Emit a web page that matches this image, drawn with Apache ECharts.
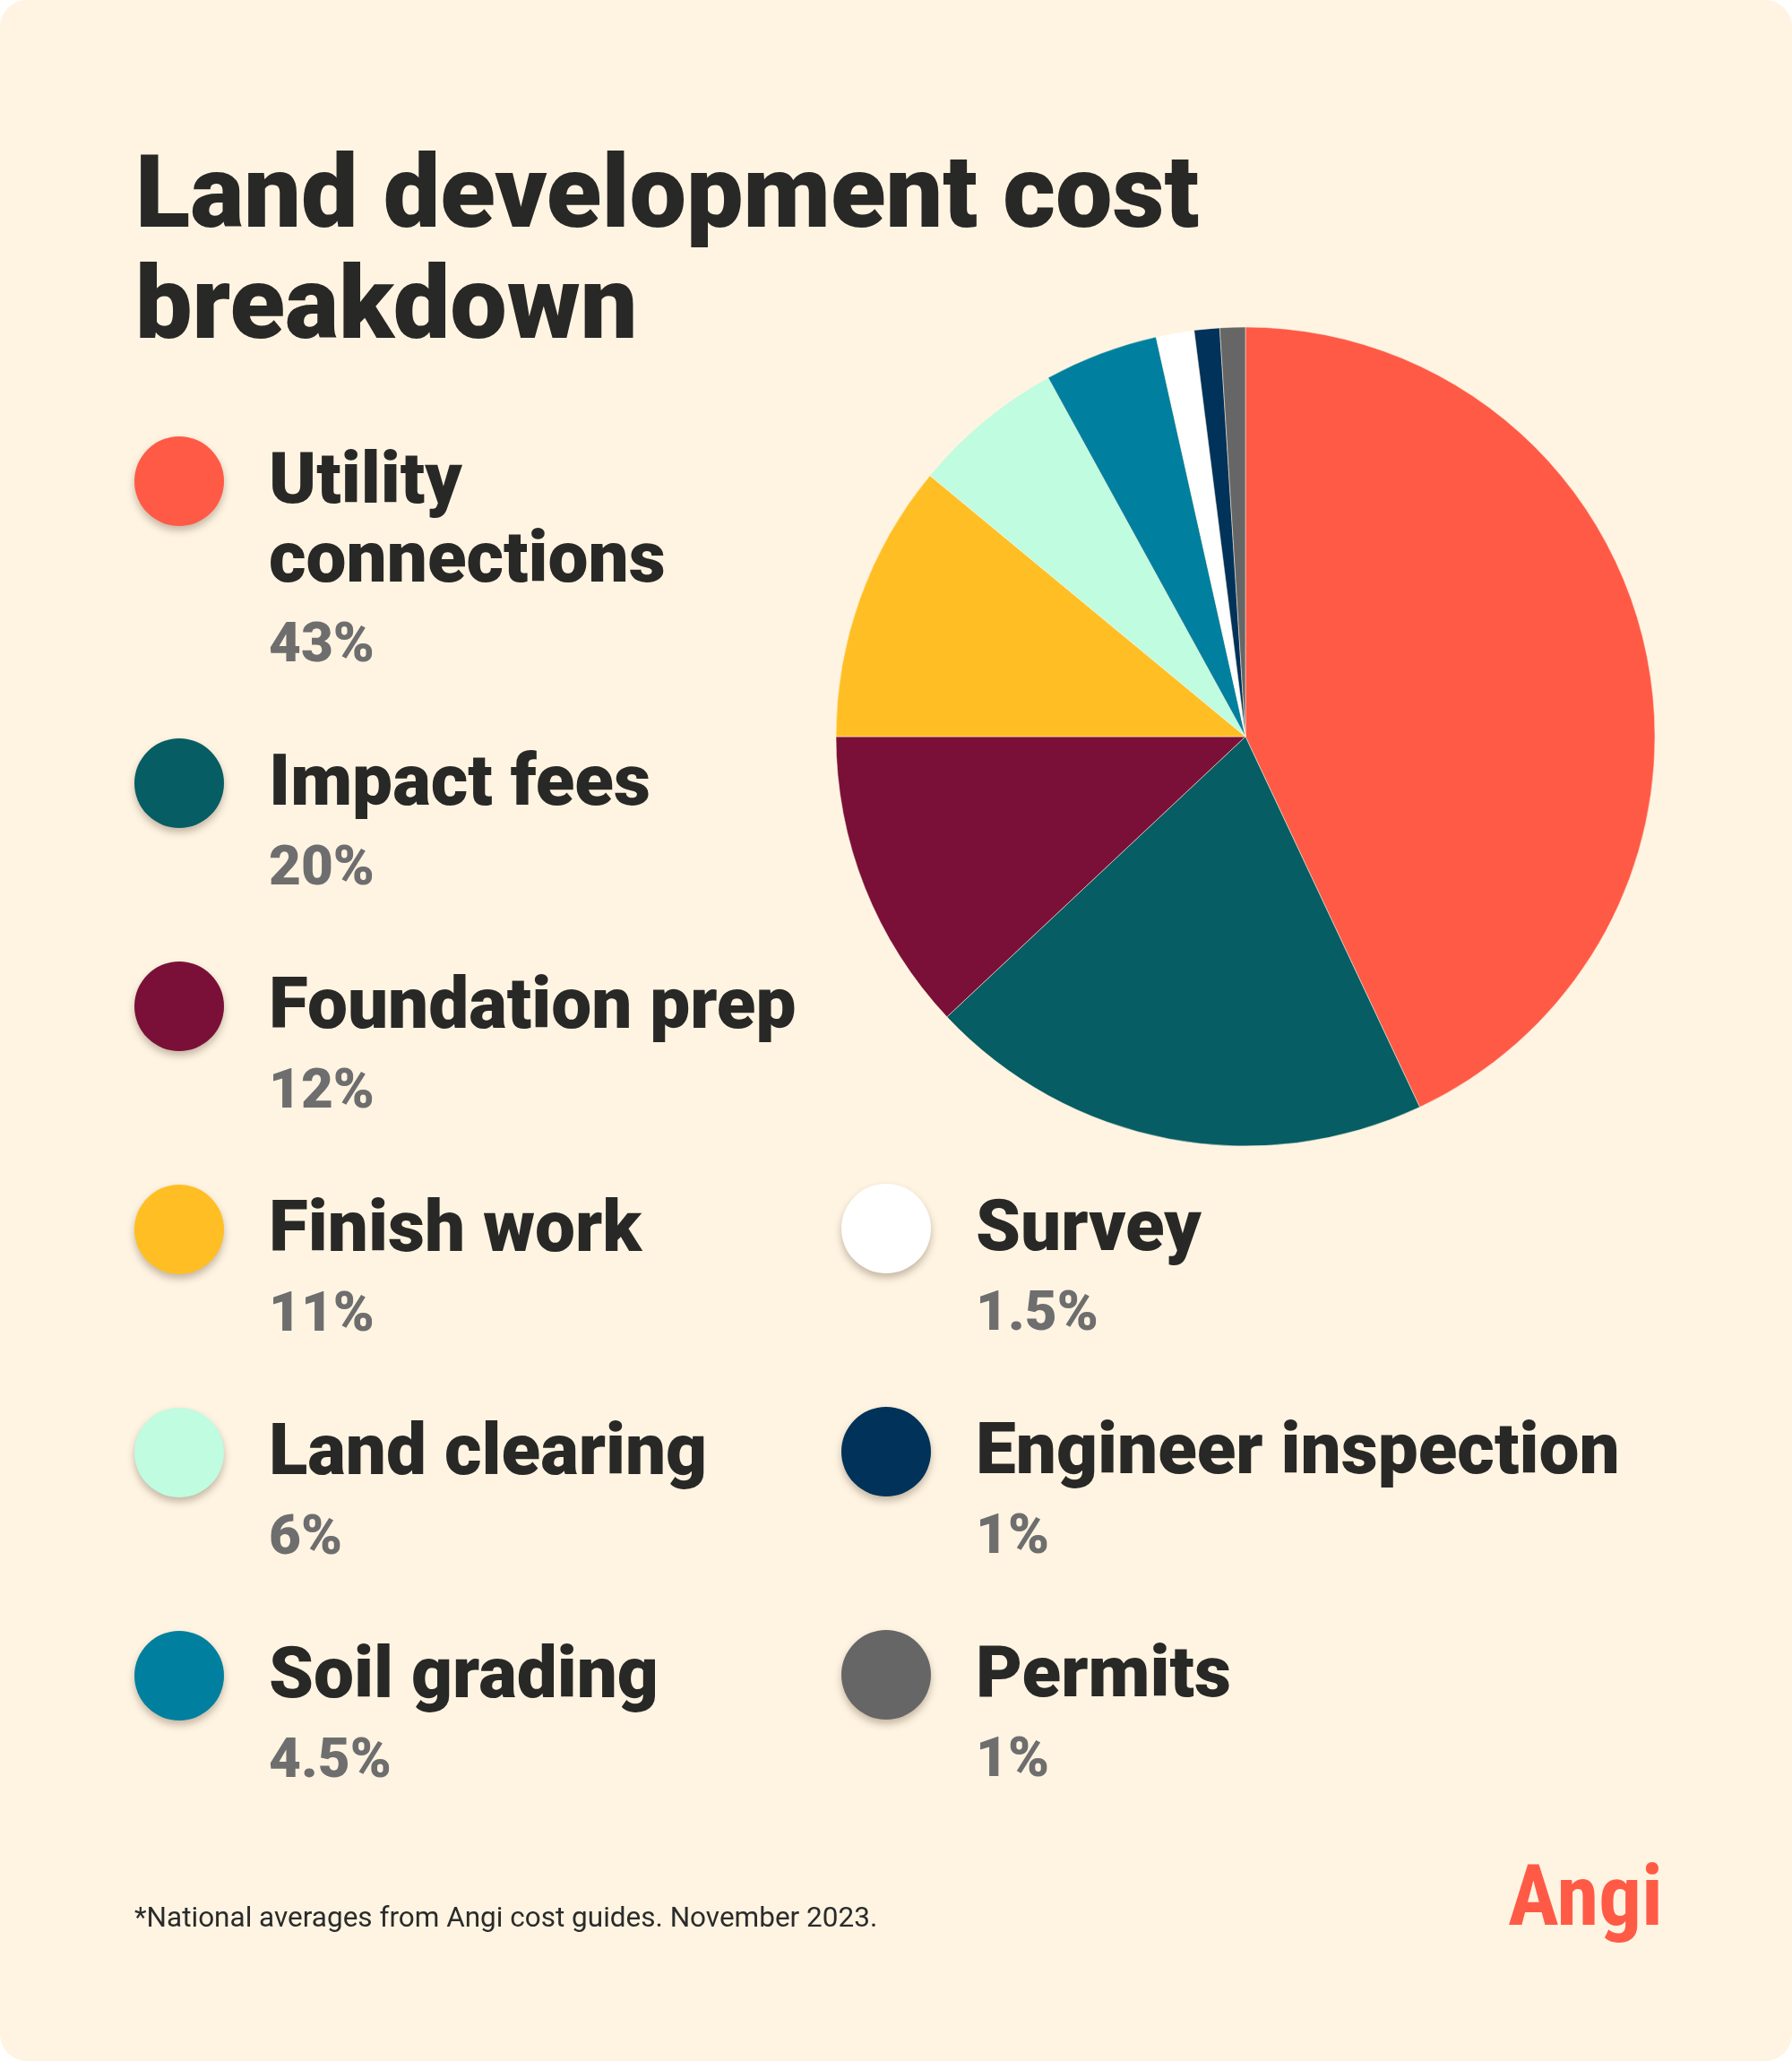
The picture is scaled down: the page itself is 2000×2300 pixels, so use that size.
<!DOCTYPE html>
<html>
<head>
<meta charset="utf-8">
<script src="https://cdn.jsdelivr.net/npm/echarts@6/dist/echarts.min.js"></script>
<style>
  html, body { margin: 0; padding: 0; background: #ffffff; }
  #main { width: 2000px; height: 2300px; border-radius: 30px; overflow: hidden; background: #FFF4E2; }
</style>
</head>
<body>
<div id="main"></div>
<script>
// ---- data ----
const categories = ['Utility connections', 'Impact fees', 'Foundation prep', 'Finish work', 'Land clearing', 'Soil grading', 'Survey', 'Engineer inspection', 'Permits'];
const shares = [43, 20, 12, 11, 6, 4.5, 1.5, 1, 1];
const colors = ['#FF5A46', '#065D63', '#7A1037', '#FFBF24', '#BFFCE0', '#00809E', '#FFFFFF', '#00325A', '#666666'];
const displayLines = [['Utility', 'connections'], ['Impact fees'], ['Foundation prep'], ['Finish work'], ['Land clearing'], ['Soil grading'], ['Survey'], ['Engineer inspection'], ['Permits']];
const leftColumn = categories.slice(0, 6);
const rightColumn = categories.slice(6);
const titleText = 'Land development cost\nbreakdown';
const footnote = '*National averages from Angi cost guides. November 2023.';
const brand = 'Angi';

// ---- layout ----
const NAME_LH = 88, PCT_LH = 98, SHIFT = 8, TEXT_LEFT = 45;
const FONT = 'Roboto, "Liberation Sans", sans-serif';

function fmt(name) {
  const i = categories.indexOf(name);
  const lines = displayLines[i].map(l => '{n|' + l + '}');
  return lines.join('\n') + '\n{p|' + shares[i] + '%}';
}
function itemPad(name) {
  const i = categories.indexOf(name);
  const extra = (displayLines[i].length - 1) * NAME_LH;
  return [PCT_LH + extra + SHIFT, 0, 0, TEXT_LEFT];
}
function legendFor(list, left, top) {
  return {
    orient: 'vertical', left: left, top: top, padding: 0,
    itemWidth: 100, itemHeight: 100, itemGap: -43,
    icon: 'circle', selectedMode: false,
    itemStyle: { shadowBlur: 8, shadowOffsetY: 5, shadowColor: 'rgba(60,40,20,0.30)', borderWidth: 0 },
    formatter: fmt,
    textStyle: {
      backgroundColor: 'rgba(0,0,0,0)',
      rich: {
        n: { fontFamily: FONT, fontSize: 80, fontWeight: 900, lineHeight: NAME_LH, color: '#282826' },
        p: { fontFamily: FONT, fontSize: 62, fontWeight: 900, lineHeight: PCT_LH, color: '#6E6E6E' }
      }
    },
    data: list.map(n => ({ name: n, textStyle: { padding: itemPad(n) } }))
  };
}

const chart = echarts.init(document.getElementById('main'), null, { renderer: 'canvas' });
chart.setOption({
  backgroundColor: 'transparent',
  animation: false,
  title: [
    { text: titleText, left: 151, top: 163, padding: 0,
      textStyle: { fontFamily: FONT, fontSize: 113, fontWeight: 900, lineHeight: 124, color: '#282826' } },
    { text: footnote, left: 150, top: 2124, padding: 0,
      textStyle: { fontFamily: FONT, fontSize: 31.5, fontWeight: 400, lineHeight: 36, color: '#2B2B2B' } },
    { text: brand, right: 144, top: 2074, padding: 0,
      textStyle: { fontFamily: '"Liberation Sans Narrow", "Roboto Condensed", Roboto, sans-serif', fontSize: 95, fontWeight: 'bold', lineHeight: 100, color: '#FF5A46' } }
  ],
  legend: [
    legendFor(leftColumn, 150, 303),
    legendFor(rightColumn, 939, 1225)
  ],
  series: [{
    type: 'pie',
    center: [1390, 822],
    radius: [0, 457],
    startAngle: 90,
    clockwise: true,
    silent: true,
    label: { show: false },
    labelLine: { show: false },
    emphasis: { disabled: true },
    itemStyle: { borderWidth: 1, borderColor: 'rgba(255,244,226,0.5)' },
    data: categories.map((c, i) => ({ name: c, value: shares[i], itemStyle: { color: colors[i] } }))
  }]
});
</script>
</body>
</html>
